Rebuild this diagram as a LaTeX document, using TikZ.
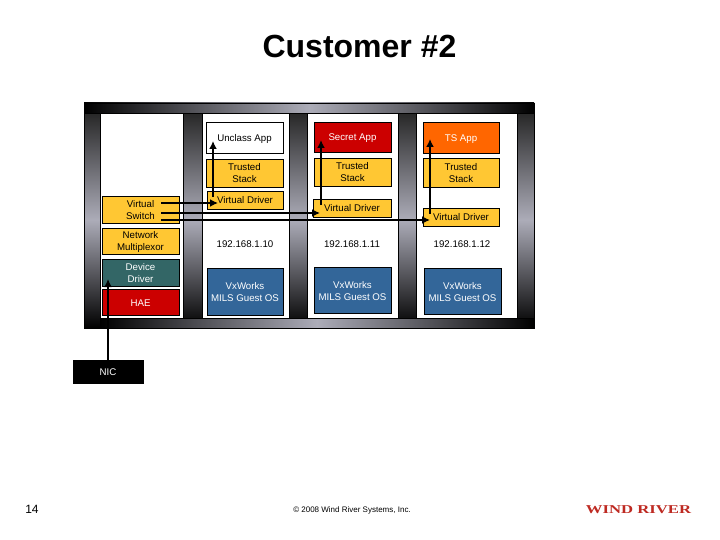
\documentclass[tikz,border=0pt]{standalone}
\usepackage{fontspec}
\setmainfont{Liberation Sans}
\newfontfamily\logofont{Liberation Serif}
\usepackage{tikz}
\usetikzlibrary{positioning,arrows.meta}

\definecolor{amber}{HTML}{FFC733}
\definecolor{slate}{HTML}{336666}
\definecolor{crimson}{HTML}{CC0000}
\definecolor{tangerine}{HTML}{FF6600}
\definecolor{steel}{HTML}{336699}
\definecolor{pillargrey}{HTML}{ACACB8}
\definecolor{logored}{HTML}{BE2A22}

\tikzset{
  box/.style={draw=black,line width=0.9pt,align=center,inner sep=0pt,font=\fontsize{9.7}{12}\selectfont},
  amberbox/.style={box,fill=amber},
  iplabel/.style={font=\fontsize{9.7}{12}\selectfont},
  link/.style={line width=2.2pt,-{Latex[length=8pt,width=8pt]}},
  pillar/.style={top color=black!85,bottom color=black,middle color=pillargrey,draw=black,line width=0.6pt},
  crossbar/.style={left color=black,right color=black,middle color=pillargrey,draw=black,line width=0.8pt}
}

% one box from its pixel corners: name, style, left, top, right, bottom, text
\newcommand{\pxbox}[7]{\node[#2,minimum width=#5pt-#3pt,minimum height=#6pt-#4pt] (#1) at ({(#3+#5)/2},{(#4+#6)/2}) {\raisebox{-1.6pt}[\height][\depth]{\begin{tabular}{@{}c@{}}#7\end{tabular}}};}

\begin{document}
\begin{tikzpicture}[x=1pt,y=-1pt]
\useasboundingbox (0,0) rectangle (720,540);
\fill[white] (0,0) rectangle (720,540);

% frame
\foreach \xa/\xb in {84/100,183/202,289/307,398/416,517/534}
  \shade[pillar] (\xa,112) rectangle (\xb,328);
\shade[crossbar] (84,103) rectangle (534,113);
\shade[crossbar] (100,318) rectangle (534,328);

\node[font=\bfseries\fontsize{32}{34}\selectfont] (title) at (359.5,46) {Customer \#2};

% left column
\pxbox{vswitch}{amberbox}{102}{196}{179}{223}{Virtual\\Switch}
\pxbox{netmux}{amberbox}{102}{228}{179}{254}{Network\\Multiplexor}
\pxbox{devdrv}{box,fill=slate,text=white}{102}{259}{179}{286}{Device\\Driver}
\pxbox{hae}{box,fill=crimson,text=white}{102}{289}{179}{315}{HAE}
\pxbox{nic}{box,fill=black,text=white}{73}{360}{143}{383}{NIC}

% guest 1
\pxbox{appA}{box,fill=white}{206}{122}{283}{153}{Unclass App}
\pxbox{stackA}{amberbox}{206}{159}{283}{187}{Trusted\\Stack}
\pxbox{vdrvA}{amberbox}{207}{191}{283}{209}{Virtual Driver}
\node[iplabel] (ipA) at (245,244) {192.168.1.10};
\pxbox{osA}{box,fill=steel,text=white}{207}{268}{283}{315}{VxWorks\\MILS Guest OS}

% guest 2
\pxbox{appB}{box,fill=crimson,text=white}{314}{122}{391}{152}{Secret App}
\pxbox{stackB}{amberbox}{314}{158}{391}{186}{Trusted\\Stack}
\pxbox{vdrvB}{amberbox}{313}{199}{391}{217}{Virtual Driver}
\node[iplabel] (ipB) at (352,244) {192.168.1.11};
\pxbox{osB}{box,fill=steel,text=white}{314}{267}{391}{313}{VxWorks\\MILS Guest OS}

% guest 3
\pxbox{appC}{box,fill=tangerine,text=white}{423}{122}{499}{153}{TS App}
\pxbox{stackC}{amberbox}{423}{158}{499}{187}{Trusted\\Stack}
\pxbox{vdrvC}{amberbox}{423}{208}{499}{226}{Virtual Driver}
\node[iplabel] (ipC) at (462,244) {192.168.1.12};
\pxbox{osC}{box,fill=steel,text=white}{424}{268}{501}{314}{VxWorks\\MILS Guest OS}

% connector ends
\coordinate (swA) at (161,203);
\coordinate (swB) at (161,213);
\coordinate (swC) at (161,220);
\coordinate (inA) at (218,203);
\coordinate (inB) at (320,213);
\coordinate (inC) at (430,220);
\coordinate (upA) at (213,197);
\coordinate (upB) at (321,205);
\coordinate (upC) at (430,214);
\coordinate (tipA) at (213,141);
\coordinate (tipB) at (321,140);
\coordinate (tipC) at (430,139);
\coordinate (tipD) at (108,279);

\draw[link] (swA) -- (inA);
\draw[link] (swB) -- (inB);
\draw[link] (swC) -- (inC);
\draw[link] (upA) -- (tipA);
\draw[link] (upB) -- (tipB);
\draw[link] (upC) -- (tipC);
\draw[link] (nic.north -| tipD) -- (tipD);

% footer
\node[font=\fontsize{12}{14}\selectfont] (page) at (32,509) {14};
\node[font=\fontsize{8}{10}\selectfont] (copy) at (352,510) {© 2008 Wind River Systems, Inc.};
\node[font=\logofont\bfseries\fontsize{12}{14}\selectfont,text=logored,xscale=1.39] (logo) at (638.5,510) {WIND RIVER};
\end{tikzpicture}
\end{document}
